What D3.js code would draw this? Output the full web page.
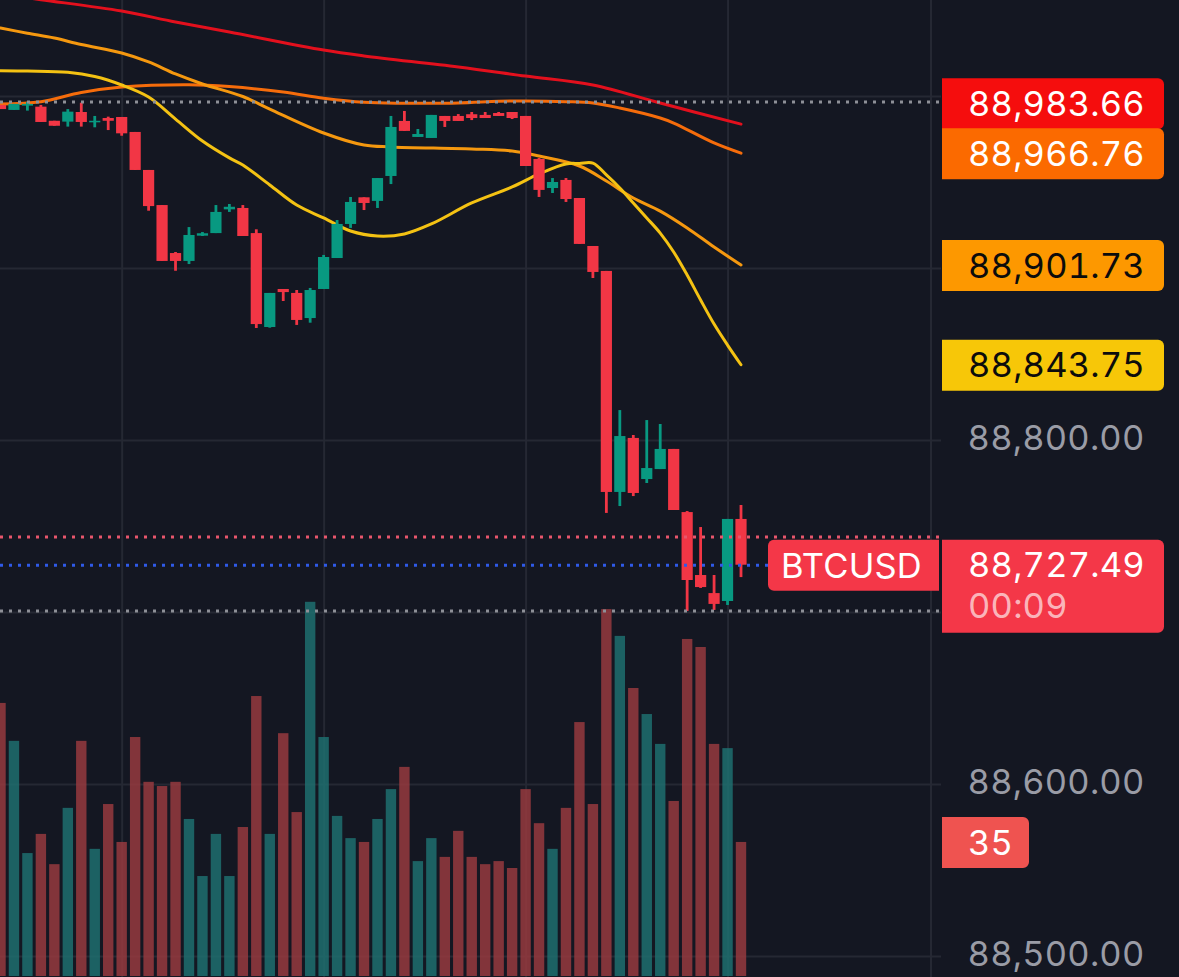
<!DOCTYPE html>
<html>
<head>
<meta charset="utf-8">
<script src="https://cdn.jsdelivr.net/npm/d3@7"></script>
<style>
  html, body { margin: 0; padding: 0; background: #141722; overflow: hidden; }
  svg { display: block; }
  text { font-family: Inter, "Noto Sans", sans-serif; font-variant-numeric: tabular-nums; letter-spacing: 0.2px; }
</style>
</head>
<body>
<div id="viz"></div>
<script>
const opens = [
  88994.8, 88991.9, 88994.4, 88993.8, 88985.6, 88985.1, 88990.7, 88984.7, 88987.2, 88987.8,
  88979.1, 88957, 88936.6, 88908.7, 88904.1, 88918.8, 88920.3, 88934.1, 88934.9, 88920.3,
  88865.7, 88887.8, 88885.5, 88870.9, 88887.8, 88905.8, 88925.6, 88941.1, 88939, 88953.5,
  88985.5, 88976.2, 88975.6, 88988.4, 88988.4, 88989.4, 88989, 88990.1, 88990.7, 88988.4,
  88963.4, 88946.5, 88951.2, 88940.7, 88912.8, 88898.3, 88769.8, 88801.2, 88777.3, 88783.1,
  88794.8, 88758.1, 88721.5, 88711, 88706.4, 88754.1
];
const highs = [
  88994.8, 88995.4, 88996.5, 88994.8, 88985.6, 88992.4, 88996.1, 88988.4, 88988, 88987.8,
  88979.1, 88957, 88936.6, 88909.3, 88923.8, 88920.9, 88936.6, 88937.2, 88936.6, 88922.5,
  88885.5, 88887.8, 88887.2, 88888.4, 88907.6, 88927.9, 88941.3, 88941.1, 88952.3, 88988.4,
  88991.3, 88980.8, 88989, 88988.4, 88989.5, 88990.7, 88990.7, 88990.7, 88990.7, 88988.4,
  88964, 88952.3, 88952.3, 88940.7, 88912.8, 88898.3, 88817.4, 88802.9, 88811.6, 88809.3,
  88794.8, 88758.7, 88749.4, 88721.5, 88754.1, 88762.2
];
const lows = [
  88992.4, 88991.9, 88991.5, 88984.9, 88982.7, 88982.2, 88982.2, 88981.8, 88980.2, 88976.9,
  88957, 88933.3, 88904.1, 88898.4, 88902.3, 88918.6, 88920.3, 88932.6, 88918.6, 88865.1,
  88865.3, 88880.8, 88866.9, 88868.2, 88887.8, 88905.8, 88923.3, 88933.7, 88934.9, 88948.8,
  88979.7, 88976.2, 88975.6, 88982, 88985.5, 88986, 88987.2, 88988.4, 88986.6, 88959.3,
  88941.3, 88943.6, 88938.4, 88914, 88894.2, 88757.6, 88761.6, 88767.4, 88775, 88783.1,
  88759.3, 88700.6, 88714, 88701.2, 88704.1, 88720.3
];
const closes = [
  88992.4, 88995.4, 88995.4, 88984.9, 88982.7, 88990.9, 88984.9, 88985.6, 88985.6, 88978.3,
  88957, 88936, 88904.1, 88904.1, 88919.2, 88920.2, 88932.6, 88935.6, 88918.6, 88867.4,
  88885.5, 88886, 88869.8, 88887.2, 88906.4, 88925.6, 88938.4, 88937.8, 88952.3, 88982,
  88979.7, 88977.9, 88989, 88985.5, 88985.5, 88987.2, 88987.2, 88988.4, 88987.2, 88959.3,
  88945.4, 88950, 88940.1, 88914, 88897.7, 88769.8, 88802.3, 88769.2, 88783.7, 88794.8,
  88759.3, 88718.6, 88714.5, 88704.7, 88754.1, 88727.49
];
const volumes = [
  71.3, 61.4, 32.1, 37.1, 29.2, 43.9, 61.4, 33.2, 44.9, 35,
  62.4, 50.7, 49.6, 50.7, 41, 26.1, 37.1, 26.1, 38.9, 73.1,
  37.1, 63.4, 42.8, 97.7, 62.4, 41.8, 36, 35, 41, 48.8,
  54.6, 30, 36, 31.1, 37.9, 31.1, 29.2, 30, 28.2, 48.8,
  39.9, 33.2, 43.9, 66.3, 44.9, 95.8, 88.8, 75.2, 68.4, 60.6,
  45.7, 88, 85.9, 60.6, 59.5, 35
];

// moving averages, read at some of the candles
const ma20Index = [0, 2, 5, 7, 9, 11, 13, 15, 17, 18, 20, 22, 24, 26, 28, 30, 32, 35, 38, 40, 42, 43, 44, 45, 46, 47, 48, 49, 50, 51, 52, 53, 54, 55];
const ma20Values = [
  89014.7, 89014.5, 89013.8, 89011.3, 89006.4, 88999.4, 88986.6, 88973.8, 88964, 88959.9, 88948.3, 88936.6,
  88929.1, 88921.5, 88918.6, 88919.8, 88925.6, 88937.8, 88947.1, 88954.7, 88960.5, 88960.8, 88961, 88954.1, 88946.5,
  88937.8, 88929.1, 88920.3, 88909.3, 88895.9, 88881.4, 88867.4, 88855.2, 88843.75
];
const ma50Index = [0, 2, 4, 6, 9, 11, 13, 15, 18, 20, 24, 27, 29, 35, 38, 40, 43, 45, 47, 49, 51, 53, 55];
const ma50Values = [
  89039.5, 89036.5, 89033.7, 89029.9, 89025, 89019.8, 89012.8, 89007, 88999.7, 88992.4, 88978.5, 88971.5,
  88970.4, 88969.2, 88968, 88965.1, 88959.3, 88950.6, 88940.7, 88933.1, 88923.3, 88912.2, 88901.73
];
const ma100Index = [0, 3, 6, 9, 14, 17, 21, 24, 27, 30, 34, 37, 39, 42, 44, 46, 49, 50, 53, 55];
const ma100Values = [
  88995.4, 88996.7, 89002, 89005.2, 89006.6, 89005.5, 89002.3, 88998.7, 88996.3, 88995.8,
  88995.9, 88996.9, 88997.1, 88996.7, 88995.9, 88993, 88987.2, 88984.3, 88972.7, 88966.76
];
const ma200Index = [0, 3, 9, 13, 17, 24, 27, 34, 39, 44, 49, 55];
const ma200Values = [
  89059.3, 89056, 89049.4, 89043, 89037.2, 89026.7, 89023.3, 89016.9, 89011.6, 89006.4, 88995.9, 88983.66
];

const gridPrices = [89000, 88900, 88800, 88700, 88600, 88500];
const axisPrices = [88800, 88600, 88500];
const gridCandles = [9, 24, 39, 54];
const priceLines = [88996.5, 88743.6, 88727.2, 88700.6];
const symbol = "BTCUSD";
const countdown = "00:09";

const W = 1179, H = 977;
const AXIS_X = 931, PLOT_R = 941, LABEL_X = 942, LABEL_R = 1164, TEXT_X = 968;
const FONT = 34.5;
const UP = "#089981", DOWN = "#f23645";

const svg = d3.select("#viz").append("svg")
  .attr("width", W)
  .attr("height", H)
  .attr("viewBox", `0 0 ${W} ${H}`);

svg.append("rect").attr("width", W).attr("height", H).attr("fill", "#141722");

const idx = d3.range(closes.length);
const x = d3.scaleLinear().domain([0, 55]).range([0.5, 741]);
const y = d3.scaleLinear().domain([88800, 88600]).range([440, 784]);
const yVol = d3.scaleLinear().domain([0, 100]).range([976, 593]);
const fmt = d3.format(",.2f");
const isUp = i => closes[i] >= opens[i];

// grid
const gridY = svg.append("g")
  .call(d3.axisRight(y).tickValues(gridPrices).tickSize(PLOT_R).tickFormat(""));
gridY.select(".domain").remove();
gridY.selectAll("line").attr("stroke", "#252833").attr("stroke-width", 2);

const gridX = svg.append("g")
  .call(d3.axisBottom(x).tickValues(gridCandles).tickSize(H).tickFormat(""));
gridX.select(".domain").remove();
gridX.selectAll("line").attr("stroke", "#252833").attr("stroke-width", 2);

svg.append("line")
  .attr("x1", AXIS_X).attr("x2", AXIS_X)
  .attr("y1", 0).attr("y2", H)
  .attr("stroke", "#252833").attr("stroke-width", 2);

// volume
svg.append("g")
  .selectAll("rect")
  .data(idx)
  .join("rect")
  .attr("x", i => x(i) - 5.2)
  .attr("width", 10.4)
  .attr("y", i => yVol(volumes[i]))
  .attr("height", i => yVol(0) - yVol(volumes[i]))
  .attr("fill", i => isUp(i) ? "#1f7271" : "#9b3a3f")
  .attr("opacity", 0.82);

// moving averages
const maLine = d3.line().x(d => x(d[0])).y(d => y(d[1])).curve(d3.curveCatmullRom.alpha(0.5));
const maSeries = [
  { index: ma200Index, values: ma200Values, color: "#e3101d" },
  { index: ma100Index, values: ma100Values, color: "#f56c0b" },
  { index: ma50Index, values: ma50Values, color: "#f5980f" },
  { index: ma20Index, values: ma20Values, color: "#f4c213" }
];
svg.append("g")
  .selectAll("path")
  .data(maSeries)
  .join("path")
  .attr("d", d => maLine(d.index.map((c, k) => [c, d.values[k]])))
  .attr("fill", "none")
  .attr("stroke", d => d.color)
  .attr("stroke-width", 3)
  .attr("stroke-linejoin", "round")
  .attr("stroke-linecap", "round");

// candles
const candles = svg.append("g");
candles.selectAll("line")
  .data(idx)
  .join("line")
  .attr("x1", i => x(i)).attr("x2", i => x(i))
  .attr("y1", i => y(highs[i])).attr("y2", i => y(lows[i]))
  .attr("stroke", i => isUp(i) ? UP : DOWN)
  .attr("stroke-width", 2.8);
candles.selectAll("rect")
  .data(idx)
  .join("rect")
  .attr("x", i => x(i) - 5.6)
  .attr("width", 11.2)
  .attr("y", i => y(Math.max(opens[i], closes[i])))
  .attr("height", i => Math.max(1.5, Math.abs(y(opens[i]) - y(closes[i]))))
  .attr("fill", i => isUp(i) ? UP : DOWN);

// dotted price lines
const lineColors = ["#8e9097", "#e8566c", "#2f5ae8", "#8e9097"];
svg.append("g")
  .selectAll("line")
  .data(priceLines)
  .join("line")
  .attr("x1", 0)
  .attr("x2", (d, i) => i === 2 ? 770 : PLOT_R)
  .attr("y1", d => y(d)).attr("y2", d => y(d))
  .attr("stroke", (d, i) => lineColors[i])
  .attr("stroke-width", 3)
  .attr("stroke-dasharray", "3 6");

// price axis
const axisG = svg.append("g")
  .attr("transform", `translate(${TEXT_X + 176.5},-2)`)
  .call(d3.axisRight(y).tickValues(axisPrices).tickSize(0).tickPadding(0).tickFormat(fmt));
axisG.select(".domain").remove();
axisG.selectAll("text")
  .attr("text-anchor", "end")
  .attr("fill", "#9a9ca6")
  .style("font-size", FONT + "px")
  .style("font-family", "Inter");

// right-rounded tag path
function tagPath(x0, x1, y0, y1, rl, rr) {
  const p = d3.path();
  p.moveTo(x0 + rl, y0);
  p.lineTo(x1 - rr, y0);
  if (rr) p.arcTo(x1, y0, x1, y0 + rr, rr);
  p.lineTo(x1, y1 - rr);
  if (rr) p.arcTo(x1, y1, x1 - rr, y1, rr);
  p.lineTo(x0 + rl, y1);
  if (rl) p.arcTo(x0, y1, x0, y1 - rl, rl);
  p.lineTo(x0, y0 + rl);
  if (rl) p.arcTo(x0, y0, x0 + rl, y0, rl);
  p.closePath();
  return p.toString();
}

// moving average value tags, pushed up when they would collide
const maTags = [
  { value: ma200Values[ma200Values.length - 1], fill: "#f50d0d", text: "#ffffff" },
  { value: ma100Values[ma100Values.length - 1], fill: "#fb6a00", text: "#ffffff" },
  { value: ma50Values[ma50Values.length - 1], fill: "#fd9800", text: "#0c0c0c" },
  { value: ma20Values[ma20Values.length - 1], fill: "#f7c708", text: "#0c0c0c" }
];
maTags.forEach(d => { d.cy = y(d.value) + 0.5; });
for (let i = maTags.length - 2; i >= 0; i--) {
  maTags[i].cy = Math.min(maTags[i].cy, maTags[i + 1].cy - 50);
}
const tagG = svg.append("g")
  .selectAll("g")
  .data(maTags)
  .join("g");
tagG.append("path")
  .attr("d", d => tagPath(LABEL_X, LABEL_R, d.cy - 25.5, d.cy + 25.5, 0, 6))
  .attr("fill", d => d.fill);
tagG.append("text")
  .attr("x", TEXT_X).attr("y", d => d.cy + 12)
  .attr("fill", d => d.text)
  .style("font-size", FONT + "px")
  .text(d => fmt(d.value));

// last price tag and symbol tag
const last = closes[closes.length - 1];
const lastY = y(last);
svg.append("path")
  .attr("d", tagPath(LABEL_X, LABEL_R, lastY - 25, lastY + 68, 0, 6))
  .attr("fill", "#f43748");
svg.append("text")
  .attr("x", TEXT_X).attr("y", lastY + 12)
  .attr("fill", "#ffffff")
  .style("font-size", FONT + "px")
  .text(fmt(last));
svg.append("text")
  .attr("x", TEXT_X).attr("y", lastY + 53)
  .attr("fill", "#ffffff").attr("fill-opacity", 0.65)
  .style("font-size", FONT + "px")
  .text(countdown);

svg.append("path")
  .attr("d", tagPath(768, 939, lastY - 25, lastY + 26, 6, 0))
  .attr("fill", "#f43748");
svg.append("text")
  .attr("x", 781).attr("y", lastY + 13)
  .attr("fill", "#ffffff")
  .style("font-size", FONT + "px")
  .text(symbol);

// volume tag
const lastVol = volumes[volumes.length - 1];
svg.append("path")
  .attr("d", tagPath(LABEL_X, 1029, yVol(lastVol) - 25, yVol(lastVol) + 26, 0, 6))
  .attr("fill", "#ef5350");
svg.append("text")
  .attr("x", TEXT_X).attr("y", yVol(lastVol) + 13)
  .attr("fill", "#ffffff")
  .style("font-size", FONT + "px")
  .text(d3.format("d")(lastVol));
</script>
</body>
</html>
